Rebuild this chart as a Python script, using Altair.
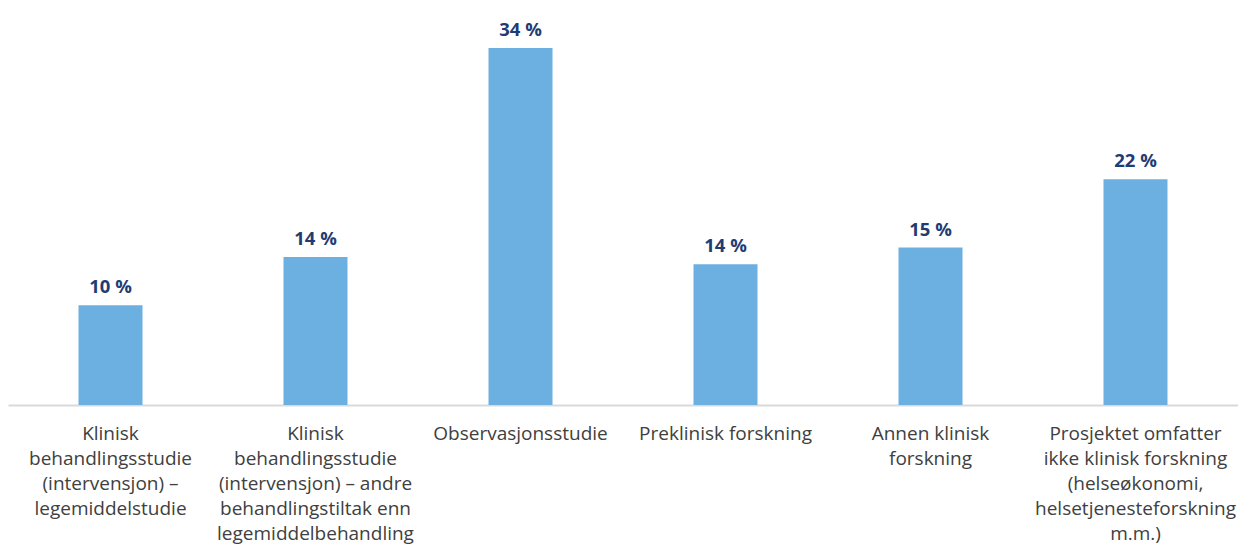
import altair as alt
import pandas as pd

categories = [
    "Klinisk|behandlingsstudie|(intervensjon) –|legemiddelstudie",
    "Klinisk|behandlingsstudie|(intervensjon) – andre|behandlingstiltak enn|legemiddelbehandling",
    "Observasjonsstudie",
    "Preklinisk forskning",
    "Annen klinisk|forskning",
    "Prosjektet omfatter|ikke klinisk forskning|(helseøkonomi,|helsetjenesteforskning|m.m.)",
]
values = [9.5, 14.1, 34.0, 13.4, 15.0, 21.5]
value_labels = ["10 %", "14 %", "34 %", "14 %", "15 %", "22 %"]

df = pd.DataFrame({"cat": categories, "value": values, "label": value_labels})

x = alt.X(
    "cat:N",
    sort=None,
    title=None,
    axis=alt.Axis(
        labelExpr="split(datum.label, '|')",
        labelAngle=0,
        labelAlign="center",
        labelBaseline="top",
        labelFont="Open Sans",
        labelFontSize=19,
        labelLineHeight=25,
        labelColor="#404040",
        labelPadding=19,
        labelLimit=0,
        ticks=False,
        tickSize=0,
        domainColor="#D9D9D9",
        domainWidth=2,
        labelOverlap=False,
    ),
    scale=alt.Scale(paddingInner=0.0, paddingOuter=0.0),
)
y = alt.Y("value:Q", scale=alt.Scale(domain=[0, 36], nice=False), axis=None)

bars = alt.Chart(df).mark_bar(size=64, color="#6CAFE1").encode(x=x, y=y)
text = alt.Chart(df).mark_text(
    baseline="alphabetic",
    dy=-12,
    font="Open Sans",
    fontSize=18.5,
    fontWeight="bold",
    color="#1F3C73",
).encode(x=x, y=y, text="label:N")

chart = (
    alt.layer(bars, text)
    .properties(width=1230, height=378, padding={"left": 0, "top": 13, "right": 0, "bottom": 3})
    .configure(background="white", view=alt.ViewConfig(stroke=None, strokeWidth=0))
)

chart.save("out.html", embed_options={"renderer": "svg", "actions": False})
